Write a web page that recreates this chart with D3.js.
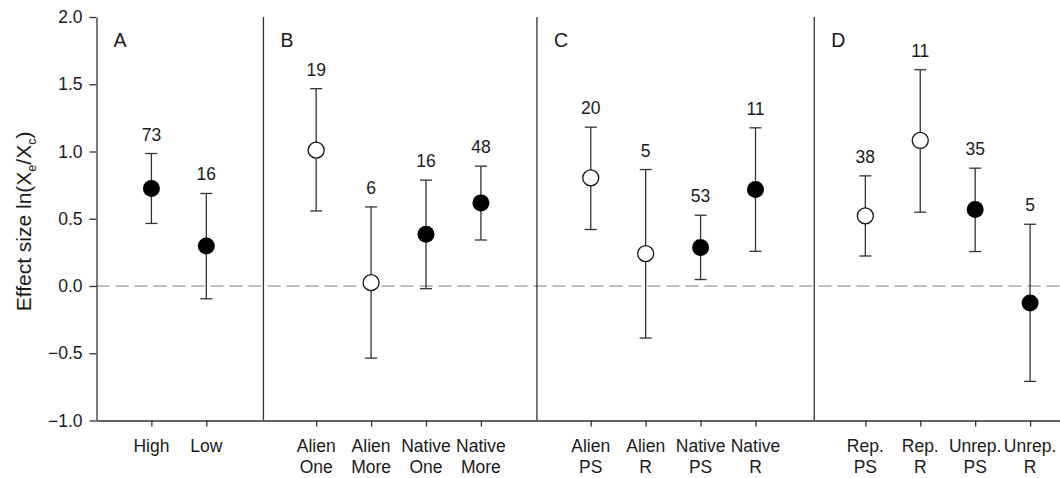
<!DOCTYPE html>
<html>
<head>
<meta charset="utf-8">
<script src="https://cdn.jsdelivr.net/npm/d3@7"></script>
<style>
  body { margin: 0; background: #fff; }
  svg text { font-family: "Liberation Sans", Arial, Helvetica, sans-serif; fill: #1a1a1a; }
</style>
</head>
<body>
<div id="chart"></div>
<script>
// data
const panelLetters = ["A", "B", "C", "D"];
const panelStarts = [0, 3.04, 8.02, 13.07];
const separators = [3.04, 8.02, 13.07];

const categories = ["High", "Low",
    "Alien\nOne", "Alien\nMore", "Native\nOne", "Native\nMore",
    "Alien\nPS", "Alien\nR", "Native\nPS", "Native\nR",
    "Rep.\nPS", "Rep.\nR", "Unrep.\nPS", "Unrep.\nR"];
const positions = [1, 2, 4, 5, 6, 7, 9, 10, 11, 12, 14, 15, 16, 17];
const means = [0.725, 0.298, 1.01, 0.025, 0.385, 0.618, 0.804, 0.241, 0.286, 0.718, 0.521, 1.082, 0.569, -0.127];
const upper = [0.985, 0.688, 1.467, 0.588, 0.787, 0.891, 1.181, 0.866, 0.526, 1.176, 0.819, 1.608, 0.876, 0.459];
const lower = [0.465, -0.095, 0.558, -0.536, -0.02, 0.342, 0.42, -0.387, 0.048, 0.258, 0.223, 0.549, 0.256, -0.709];
const counts = [73, 16, 19, 6, 16, 48, 20, 5, 53, 11, 38, 11, 35, 5];
const filled = [true, true, false, false, true, true, false, false, true, true, false, false, true, true];
const yTicks = [-1.0, -0.5, 0.0, 0.5, 1.0, 1.5, 2.0];

const W = 1060, H = 478;
const svg = d3.select("#chart").append("svg")
    .attr("width", W)
    .attr("height", H);

const x = d3.scaleLinear().domain([0, 18]).range([96.5, 1085]);
const y = d3.scaleLinear().domain([-1, 2]).range([420.5, 17]);

const data = categories.map((c, i) => ({
    cat: c, pos: positions[i], mean: means[i], lo: lower[i], hi: upper[i],
    n: counts[i], filled: filled[i]
}));

// zero reference line
svg.append("line")
    .attr("x1", x(0)).attr("x2", W)
    .attr("y1", y(0)).attr("y2", y(0))
    .attr("stroke", "#a8a8a8")
    .attr("stroke-width", 1.6)
    .attr("stroke-dasharray", "13,6");

// panel separators
svg.append("g").selectAll("line")
    .data(separators)
    .join("line")
    .attr("x1", d => x(d)).attr("x2", d => x(d))
    .attr("y1", y(2)).attr("y2", y(-1))
    .attr("stroke", "#333")
    .attr("stroke-width", 1.3);

// y axis
const yAxis = svg.append("g")
    .attr("transform", `translate(${x(0)},0)`)
    .call(d3.axisLeft(y).tickValues(yTicks).tickFormat(d3.format(".1f")).tickSize(7).tickPadding(7).tickSizeOuter(0));
yAxis.select(".domain").attr("stroke", "#333").attr("stroke-width", 1.3);
yAxis.selectAll(".tick line").attr("stroke", "#333").attr("stroke-width", 1.3);
yAxis.selectAll(".tick text").attr("font-size", 17.5).attr("fill", "#1a1a1a");

// x axis
const xAxis = svg.append("g")
    .attr("transform", `translate(0,${y(-1)})`)
    .call(d3.axisBottom(x).tickValues(positions).tickFormat("").tickSize(6).tickSizeOuter(0));
xAxis.select(".domain").attr("stroke", "#333").attr("stroke-width", 1.3);
xAxis.selectAll(".tick line").attr("stroke", "#333").attr("stroke-width", 1.3);

// category labels (two lines where needed)
const catLabels = svg.append("g").selectAll("text")
    .data(data)
    .join("text")
    .attr("x", d => x(d.pos))
    .attr("y", 452)
    .attr("text-anchor", "middle")
    .attr("font-size", 17.5);
catLabels.each(function(d) {
    const lines = d.cat.split("\n");
    d3.select(this).selectAll("tspan")
        .data(lines)
        .join("tspan")
        .attr("x", x(d.pos))
        .attr("dy", (l, i) => i === 0 ? 0 : 20.5)
        .text(l => l);
});

// y axis title
const yTitle = svg.append("text")
    .attr("transform", `translate(31,${y(0.48)}) rotate(-90)`)
    .attr("text-anchor", "middle")
    .attr("font-size", 21);
yTitle.append("tspan").text("Effect size ln(X");
yTitle.append("tspan").attr("font-size", 12.5).attr("dy", 5).text("e");
yTitle.append("tspan").attr("dy", -5).text("/X");
yTitle.append("tspan").attr("font-size", 12.5).attr("dy", 5).text("c");
yTitle.append("tspan").attr("dy", -5).text(")");

// panel letters
svg.append("g").selectAll("text")
    .data(panelLetters)
    .join("text")
    .attr("x", (d, i) => x(panelStarts[i]) + 17)
    .attr("y", 47)
    .attr("font-size", 19.5)
    .text(d => d);

// error bars
const bars = svg.append("g")
    .attr("stroke", "#333")
    .attr("stroke-width", 1.3);
bars.selectAll("line.whisker")
    .data(data)
    .join("line")
    .attr("class", "whisker")
    .attr("x1", d => x(d.pos)).attr("x2", d => x(d.pos))
    .attr("y1", d => y(d.lo)).attr("y2", d => y(d.hi));
bars.selectAll("line.capHi")
    .data(data)
    .join("line")
    .attr("class", "capHi")
    .attr("x1", d => x(d.pos) - 6).attr("x2", d => x(d.pos) + 6)
    .attr("y1", d => y(d.hi)).attr("y2", d => y(d.hi));
bars.selectAll("line.capLo")
    .data(data)
    .join("line")
    .attr("class", "capLo")
    .attr("x1", d => x(d.pos) - 6).attr("x2", d => x(d.pos) + 6)
    .attr("y1", d => y(d.lo)).attr("y2", d => y(d.lo));

// points
svg.append("g").selectAll("circle")
    .data(data)
    .join("circle")
    .attr("cx", d => x(d.pos))
    .attr("cy", d => y(d.mean))
    .attr("r", d => d.filled ? 8.5 : 8)
    .attr("fill", d => d.filled ? "#000" : "#fff")
    .attr("stroke", "#111")
    .attr("stroke-width", d => d.filled ? 0 : 1.3);

// sample sizes
svg.append("g").selectAll("text")
    .data(data)
    .join("text")
    .attr("x", d => x(d.pos))
    .attr("y", d => y(d.hi) - 13)
    .attr("text-anchor", "middle")
    .attr("font-size", 17.5)
    .text(d => d.n);
</script>
</body>
</html>
